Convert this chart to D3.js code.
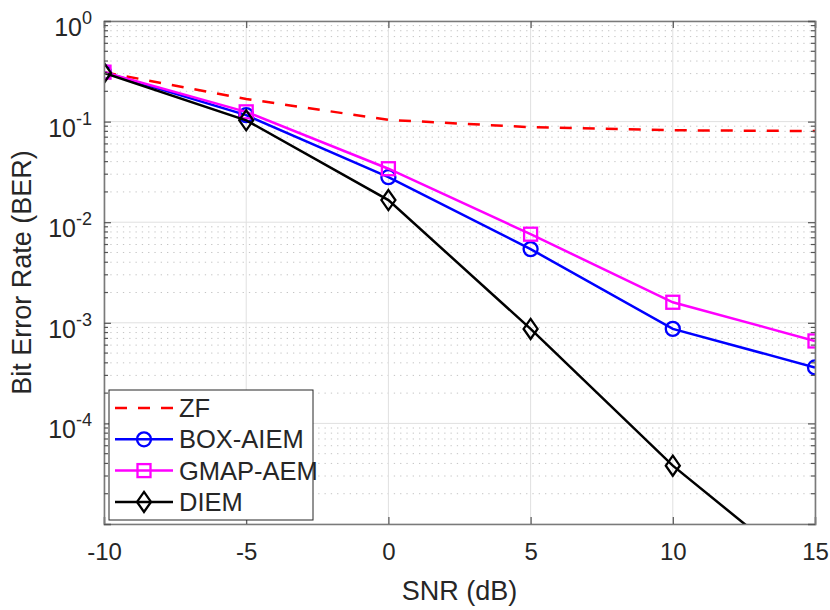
<!DOCTYPE html>
<html>
<head>
<meta charset="utf-8">
<script src="https://cdn.jsdelivr.net/npm/d3@7"></script>
<style>
  body { margin: 0; background: #fff; }
  text { font-family: "Liberation Sans", Arial, sans-serif; fill: #262626; }
</style>
</head>
<body>
<svg id="chart" width="830" height="610"></svg>
<script>
// data
var snr = [-10, -5, 0, 5, 10, 15];
var zf = [0.31, 0.168, 0.104, 0.088, 0.082, 0.0805];
var boxAiem = [0.31, 0.116, 0.028, 0.0054, 0.00087, 0.00036];
var gmapAem = [0.31, 0.125, 0.034, 0.0076, 0.0016, 0.00066];
var diem = [0.305, 0.103, 0.0166, 0.00087, 0.000038, 0.0000027];

var xTicks = [-10, -5, 0, 5, 10, 15];
var yDecades = [-5, -4, -3, -2, -1, 0];
var yLabelDecades = [-4, -3, -2, -1, 0];
var legendNames = ['ZF', 'BOX-AIEM', 'GMAP-AEM', 'DIEM'];

var series = [
  {name: legendNames[0], values: zf, color: '#ff0000', dash: '12,11', marker: null},
  {name: legendNames[1], values: boxAiem, color: '#0000ff', dash: null, marker: 'circle'},
  {name: legendNames[2], values: gmapAem, color: '#ff00ff', dash: null, marker: 'square'},
  {name: legendNames[3], values: diem, color: '#000000', dash: null, marker: 'diamond'}
];

var margin = {left: 104, top: 21, right: 15, bottom: 86};
var W = 830, H = 610;
var w = W - margin.left - margin.right,
    h = H - margin.top - margin.bottom;

var svg = d3.select('#chart');
var g = svg.append('g').attr('transform', 'translate(' + margin.left + ',' + margin.top + ')');

var x = d3.scaleLinear().domain([-10, 15]).range([0, w]);
var y = d3.scaleLog().domain([1e-5, 1]).range([h, 0]);

// minor values 2..9 per decade
var minors = [];
yDecades.slice(0, -1).forEach(function (e) {
  for (var k = 2; k <= 9; k++) minors.push(k * Math.pow(10, e));
});

// grid
g.append('g').selectAll('line.minor').data(minors).enter().append('line')
  .attr('x1', 0).attr('x2', w)
  .attr('y1', d => y(d)).attr('y2', d => y(d))
  .attr('stroke', '#c4c4c4').attr('stroke-width', 1)
  .attr('stroke-dasharray', '1.3,5');

g.append('g').selectAll('line.vx').data(xTicks).enter().append('line')
  .attr('x1', d => x(d)).attr('x2', d => x(d))
  .attr('y1', 0).attr('y2', h)
  .attr('stroke', '#e0e0e0').attr('stroke-width', 1);

g.append('g').selectAll('line.hy').data(yDecades).enter().append('line')
  .attr('x1', 0).attr('x2', w)
  .attr('y1', d => y(Math.pow(10, d))).attr('y2', d => y(Math.pow(10, d)))
  .attr('stroke', '#e0e0e0').attr('stroke-width', 1);

// clip
svg.append('defs').append('clipPath').attr('id', 'clip')
  .append('rect').attr('width', w).attr('height', h);

var line = d3.line().x((d, i) => x(snr[i])).y(d => y(d));
var plot = g.append('g').attr('clip-path', 'url(#clip)');

function drawMarker(sel, type, color) {
  if (type === 'circle') {
    sel.append('circle').attr('r', 7).attr('fill', 'none')
      .attr('stroke', color).attr('stroke-width', 2.3);
  } else if (type === 'square') {
    sel.append('rect').attr('x', -6.5).attr('y', -6.5).attr('width', 13).attr('height', 13)
      .attr('fill', 'none').attr('stroke', color).attr('stroke-width', 2.3);
  } else if (type === 'diamond') {
    sel.append('path').attr('d', 'M0,-10L7,0L0,10L-7,0Z')
      .attr('fill', 'none').attr('stroke', color).attr('stroke-width', 2.3);
  }
}

series.forEach(function (s) {
  plot.append('path').datum(s.values)
    .attr('d', line)
    .attr('fill', 'none')
    .attr('stroke', s.color)
    .attr('stroke-width', 2.5)
    .attr('stroke-dasharray', s.dash);
  if (s.marker) {
    s.values.forEach(function (v, i) {
      var m = plot.append('g').attr('transform', 'translate(' + x(snr[i]) + ',' + y(v) + ')');
      drawMarker(m, s.marker, s.color);
    });
  }
});

// axes box and ticks
var axisColor = '#7a7a7a';
var xb = g.append('g').attr('transform', 'translate(0,' + h + ')')
  .call(d3.axisBottom(x).tickValues(xTicks).tickSize(-7).tickPadding(19).tickFormat(d3.format('d')));
var xt = g.append('g')
  .call(d3.axisTop(x).tickValues(xTicks).tickSize(-7).tickFormat(''));
var yl = g.append('g')
  .call(d3.axisLeft(y).tickValues(yDecades.map(e => Math.pow(10, e))).tickSize(-7).tickFormat(''));
var yr = g.append('g').attr('transform', 'translate(' + w + ',0)')
  .call(d3.axisRight(y).tickValues(yDecades.map(e => Math.pow(10, e))).tickSize(-7).tickFormat(''));

[xb, xt, yl, yr].forEach(function (a) {
  a.select('.domain').attr('stroke', axisColor).attr('stroke-width', 1.6);
  a.selectAll('.tick line').attr('stroke', '#555').attr('stroke-width', 1.2);
});
xb.selectAll('.tick text').attr('font-size', 24).attr('fill', '#262626')
  .text(d => d < 0 ? '-' + Math.abs(d) : d);

// minor ticks on left and right
g.append('g').selectAll('line').data(minors).enter().append('line')
  .attr('x1', 0).attr('x2', 4).attr('y1', d => y(d)).attr('y2', d => y(d))
  .attr('stroke', '#555').attr('stroke-width', 1.2);
g.append('g').selectAll('line').data(minors).enter().append('line')
  .attr('x1', w - 4).attr('x2', w).attr('y1', d => y(d)).attr('y2', d => y(d))
  .attr('stroke', '#555').attr('stroke-width', 1.2);

// y tick labels with superscripts
var ylab = g.append('g').selectAll('text').data(yLabelDecades).enter().append('text')
  .attr('x', -12).attr('y', d => y(Math.pow(10, d)) + 15)
  .attr('text-anchor', 'end');
ylab.append('tspan').attr('font-size', 25).text('10');
ylab.append('tspan').attr('font-size', 18).attr('dy', -12).text(d => d < 0 ? '-' + Math.abs(d) : d);

// axis labels
svg.append('text')
  .attr('x', margin.left + w / 2).attr('y', 600)
  .attr('text-anchor', 'middle').attr('font-size', 27)
  .text('SNR (dB)');
svg.append('text')
  .attr('transform', 'translate(31,' + (margin.top + h / 2) + ') rotate(-90)')
  .attr('text-anchor', 'middle').attr('font-size', 27)
  .text('Bit Error Rate (BER)');

// legend
var lg = svg.append('g').attr('transform', 'translate(109,390)');
lg.append('rect').attr('width', 204).attr('height', 130)
  .attr('fill', '#fff').attr('stroke', '#262626').attr('stroke-width', 1);
series.forEach(function (s, i) {
  var ly = 18 + i * 31.3;
  lg.append('line').attr('x1', 6).attr('x2', 64).attr('y1', ly).attr('y2', ly)
    .attr('stroke', s.color).attr('stroke-width', 2.5)
    .attr('stroke-dasharray', s.dash);
  if (s.marker) {
    var m = lg.append('g').attr('transform', 'translate(35,' + ly + ')');
    drawMarker(m, s.marker, s.color);
  }
  lg.append('text').attr('x', 70).attr('y', ly + 9)
    .attr('font-size', 25.5).attr('fill', '#000').text(s.name);
});
</script>
</body>
</html>
